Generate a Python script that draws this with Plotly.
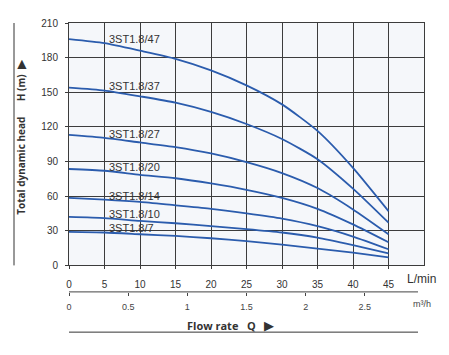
import plotly.graph_objects as go

# Flow rate (L/min)
flow = [0, 5, 10, 15, 20, 25, 30, 35, 40, 45]

# Head (m) for each pump model
models = ["3ST1.8/47", "3ST1.8/37", "3ST1.8/27", "3ST1.8/20", "3ST1.8/14", "3ST1.8/10", "3ST1.8/7"]
h_47 = [196, 192.5, 186, 179, 169, 156, 139.5, 116.5, 84.5, 47]
h_37 = [154, 151.5, 146.5, 141, 133, 122.5, 109.5, 92, 66.5, 37]
h_27 = [113, 110.5, 106.5, 102.5, 97, 89.5, 80, 67, 48.5, 27]
h_20 = [83.5, 82, 78.5, 75.5, 71, 65.5, 58.5, 49, 35.5, 20]
h_14 = [58.5, 57, 55, 52, 49, 45, 40.5, 34, 25, 14]
h_10 = [42, 41, 38.5, 36.5, 34, 31.5, 28.5, 24, 17.5, 10.5]
h_7 = [29, 28.5, 27, 25.5, 23.5, 21, 18, 14.5, 11, 7]
heads = [h_47, h_37, h_27, h_20, h_14, h_10, h_7]

y_ticks = [0, 30, 60, 90, 120, 150, 180, 210]
x_ticks = [0, 5, 10, 15, 20, 25, 30, 35, 40, 45]
m3h_ticks = [0, 0.5, 1, 1.5, 2, 2.5]

W, H = 449, 355
ML, MR, MT, MB = 69, 25, 23, 10
PW = W - ML - MR
PH = H - MT - MB
def py(px):  # pixel y -> paper y
    return (H - MB - px) / PH
def pxx(px):  # pixel x -> paper x
    return (px - ML) / PW

LINE = "#2b5cad"
TXT = "#333333"
FONT = "Liberation Sans, Arial, sans-serif"

fig = go.Figure()
for name, h in zip(models, heads):
    fig.add_trace(go.Scatter(x=flow, y=h, mode="lines", name=name,
                             line=dict(color=LINE, width=1.8, shape="spline", smoothing=0.6),
                             showlegend=False, hoverinfo="skip"))
    # label just above curve start
    fig.add_annotation(x=5.4, y=h[1] + 3.5, text=name, showarrow=False,
                       xanchor="left", yanchor="middle",
                       font=dict(family=FONT, size=11, color=TXT))

# dummy trace to activate the m3/h axis
fig.add_trace(go.Scatter(x=[0], y=[None], xaxis="x2", yaxis="y", mode="lines",
                         showlegend=False, hoverinfo="skip"))

fig.update_layout(
    width=W, height=H,
    margin=dict(l=ML, r=MR, t=MT, b=MB),
    paper_bgcolor="white", plot_bgcolor="#f5f7fa",
    font=dict(family=FONT, size=10, color=TXT),
    xaxis=dict(range=[0, 50], tickvals=x_ticks, showgrid=True, gridcolor="#3c3c3c", gridwidth=1,
               showline=True, linecolor="#3c3c3c", linewidth=1, mirror=True,
               ticks="outside", ticklen=3, tickcolor="#3c3c3c", zeroline=False,
               tickfont=dict(size=10, color=TXT), ticklabelstandoff=7),
    yaxis=dict(range=[0, 210], tickvals=y_ticks, showgrid=True, gridcolor="#3c3c3c", gridwidth=1,
               showline=True, linecolor="#3c3c3c", linewidth=1, mirror=True,
               ticks="outside", ticklen=3, tickcolor="#3c3c3c", zeroline=False,
               domain=[py(270), 1], tickfont=dict(size=10, color=TXT), ticklabelstandoff=5),
    xaxis2=dict(range=[0, 3.0], tickvals=m3h_ticks, overlaying="x", anchor="free", position=py(297),
                side="bottom", showgrid=False, showline=False,
                ticks="outside", ticklen=3, tickcolor="#444", zeroline=False,
                tickfont=dict(size=9, color="#444"), ticklabelstandoff=3),
)

fig.add_shape(type="line", xref="paper", yref="paper", x0=0, x1=pxx(418), y0=py(297), y1=py(297),
              line=dict(color="#444", width=1))
fig.add_annotation(xref="paper", yref="paper", x=pxx(405), y=py(284), text="L/min",
                   showarrow=False, xanchor="left", yanchor="middle",
                   font=dict(family=FONT, size=12, color=TXT))
fig.add_annotation(xref="paper", yref="paper", x=pxx(411), y=py(309), text="m³/h",
                   showarrow=False, xanchor="left", yanchor="middle",
                   font=dict(family=FONT, size=9, color="#444"))
fig.add_annotation(xref="paper", yref="paper", x=pxx(230), y=py(331),
                   text="<b>Flow rate   Q   </b><span style='font-size:13px'>▶</span>",
                   showarrow=False, xanchor="center", yanchor="middle",
                   font=dict(family="Open Sans, sans-serif", size=11, color=TXT))
fig.add_shape(type="line", xref="paper", yref="paper", x0=0, x1=pxx(418), y0=py(338), y1=py(338),
              line=dict(color="#333", width=1))
fig.add_annotation(xref="paper", yref="paper", x=pxx(21), y=py(139), textangle=-90,
                   text="<b>Total dynamic head      H (m)  </b><span style='font-size:12px'>▶</span>",
                   showarrow=False, xanchor="center", yanchor="middle",
                   font=dict(family="Open Sans, sans-serif", size=10, color=TXT))
fig.add_shape(type="line", xref="paper", yref="paper", x0=pxx(14), x1=pxx(14), y0=py(23), y1=py(270),
              line=dict(color="#333", width=1))

fig.write_html("out.html")
